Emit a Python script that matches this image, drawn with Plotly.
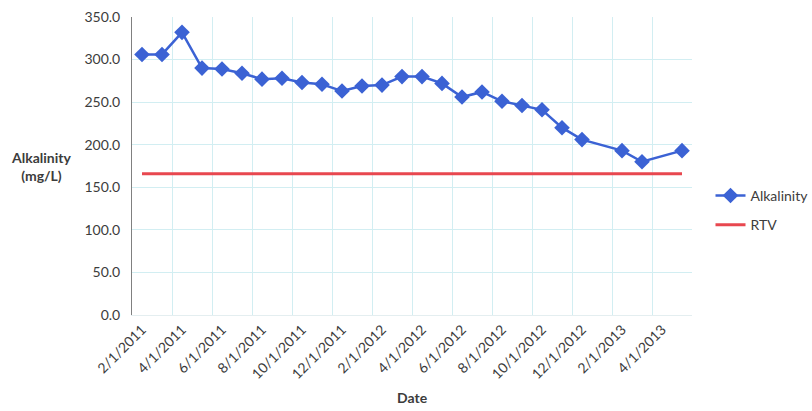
import plotly.graph_objects as go

# Monthly sampling dates (month index 0 = Feb 2011)
month_index = [0, 1, 2, 3, 4, 5, 6, 7, 8, 9, 10, 11, 12, 13, 14, 15,
               16, 17, 18, 19, 20, 21, 22, 24, 25, 27]
alkalinity = [306, 306, 332, 290, 289, 284, 277, 278, 273, 271, 263, 269,
              270, 280, 280, 272, 256, 262, 251, 246, 241, 220, 206, 193,
              180, 193]
rtv_value = 166
rtv_x = [0, 27]
rtv = [rtv_value, rtv_value]

tick_positions = [0, 2, 4, 6, 8, 10, 12, 14, 16, 18, 20, 22, 24, 26]
tick_labels = ["2/1/2011", "4/1/2011", "6/1/2011", "8/1/2011", "10/1/2011",
               "12/1/2011", "2/1/2012", "4/1/2012", "6/1/2012", "8/1/2012",
               "10/1/2012", "12/1/2012", "2/1/2013", "4/1/2013"]
# vertical gridlines sit on the boundaries between two-month periods
grid_positions = [p - 0.5 for p in tick_positions] + [27.5]

FONT = "Lato, 'Open Sans', sans-serif"
TEXT = "#3c3c3c"
GRID = "#d2eef2"

fig = go.Figure()
fig.add_trace(go.Scatter(
    x=month_index, y=alkalinity, mode="lines+markers", name="Alkalinity",
    legendgroup="alk",
    line=dict(color="#3b62d4", width=2.5),
    marker=dict(symbol="diamond", size=12, color="#3b62d4"),
))
fig.add_trace(go.Scatter(
    x=rtv_x, y=rtv, mode="lines", name="RTV", legendgroup="rtv",
    line=dict(color="#e8474f", width=3),
))

fig.update_layout(
    width=812, height=411,
    margin=dict(l=132, r=120, t=17, b=96, autoexpand=False),
    paper_bgcolor="white", plot_bgcolor="white",
    font=dict(family=FONT, size=13, color=TEXT),
    legend=dict(xref="container", yref="container", x=0.875, y=0.488,
                xanchor="left", yanchor="middle",
                font=dict(size=14, color=TEXT), tracegroupgap=8,
                itemwidth=30, bgcolor="rgba(0,0,0,0)"),
    xaxis=dict(
        range=[-0.5, 27.5], tickmode="array", tickvals=tick_positions,
        ticktext=tick_labels, tickangle=-45, showgrid=False, zeroline=False,
        showline=True, linecolor="#e4eef0", linewidth=1, ticks="",
        tickfont=dict(size=14, color=TEXT), automargin=False,
        minor=dict(tickmode="array", tickvals=grid_positions, showgrid=True,
                   gridcolor=GRID, gridwidth=1, ticks=""),
    ),
    yaxis=dict(
        range=[0, 350], dtick=50, tickformat=".1f", showgrid=True,
        gridcolor=GRID, gridwidth=1, zeroline=False, showline=True,
        linecolor="#808080", linewidth=1, ticks="outside", ticklen=8,
        tickcolor="rgba(0,0,0,0)", tickfont=dict(size=14, color=TEXT),
        automargin=False,
    ),
    annotations=[
        dict(text="<b>Alkalinity<br>(mg/L)</b>", xref="paper", yref="paper",
             x=-0.163, y=0.5, xanchor="center", yanchor="middle",
             showarrow=False, font=dict(size=14, color=TEXT)),
        dict(text="<b>Date</b>", xref="paper", yref="paper",
             x=0.5, y=-0.278, xanchor="center", yanchor="middle",
             showarrow=False, font=dict(size=14, color=TEXT)),
    ],
)

fig.write_html("out.html")
